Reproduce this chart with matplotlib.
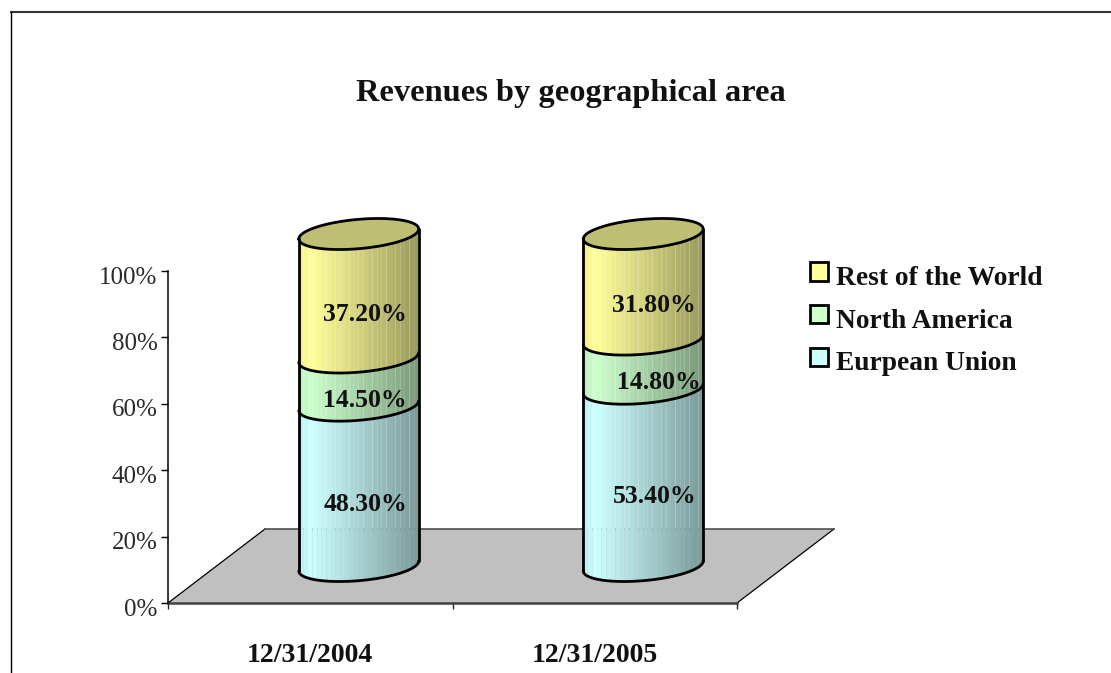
import numpy as np
import matplotlib
matplotlib.use('Agg')
import matplotlib.pyplot as plt
from matplotlib.patches import Patch, Polygon
from matplotlib.transforms import ScaledTranslation

categories = ['12/31/2004', '12/31/2005']
series = ['Eurpean Union', 'North America', 'Rest of the World']
eu = [48.3, 53.4]
na = [14.5, 14.8]
row = [37.2, 31.8]
values = [eu, na, row]
yticks = [0, 20, 40, 60, 80, 100]
colors = ['#CCFFFF', '#CCFFCC', '#FFFF99']
title = 'Revenues by geographical area'

W, H = 1111, 673
plt.rcParams['font.family'] = ['Liberation Serif', 'DejaVu Serif']

fig = plt.figure(figsize=(W / 100, H / 100), dpi=100)
# page frame: only the top and left lines are on the page
fig.add_artist(plt.Line2D([11 / W, W / W], [1 - 12 / H, 1 - 12 / H], color='#333333', lw=1.5))
fig.add_artist(plt.Line2D([11 / W, 11 / W], [0, 1 - 12 / H], color='black', lw=1.0))

ax = fig.add_axes([168 / W, 1 - 603 / H, 569 / W, 332 / H])
ax.set_xlim(0, 2)
ax.set_ylim(0, 100)
ax.patch.set_visible(False)

# 3d look: depth of the floor, and the cylinder shape, in axis units
dx, dy = 97 / 284.5, 74 / 3.32
half_w = 60 / 284.5
tilt = 5 / 3.32
flat = 14.7 / 3.32
n_bands = 26


def shade(u):
    # u runs -1..1 across the cylinder
    pos = (u + 1) / 2
    if pos < 0.1:
        return 0.93 + 0.07 * pos / 0.1
    return 1.0 - 0.40 * (pos - 0.1) / 0.9


def front(u):
    return tilt * u - flat * np.sqrt(1 - u ** 2)


def back(u):
    return tilt * u + flat * np.sqrt(1 - u ** 2)


floor = Polygon([(0, 0), (2, 0), (2 + dx, dy), (dx, dy)], closed=True, facecolor='#C0C0C0',
                edgecolor='none', zorder=1, clip_on=False)
ax.add_patch(floor)
ax.plot([0, dx], [0, dy], color='black', lw=0.9, zorder=2, clip_on=False)
ax.plot([2, 2 + dx], [0, dy], color='black', lw=0.9, zorder=2, clip_on=False)
ax.plot([dx, 2 + dx], [dy, dy], color='#505050', lw=1.2, zorder=2, clip_on=False)
ax.plot([0, 2], [0, 0], color='#404040', lw=1.8, zorder=2, clip_on=False)

edges = np.linspace(-1, 1, n_bands + 1)
line_kw = dict(color='black', lw=2.0, zorder=6, clip_on=False, solid_capstyle='round')
# sideways nudge of the labels, in points, per category and series
nudge = [[4.5, 4.5, 4.5], [8, 11.5, 8]]

for i in range(len(categories)):
    cx = i + 0.5 + dx / 2
    base = dy / 2
    bottom = base
    for s in range(len(series)):
        v = values[s][i]
        top = bottom + v
        rgb = np.array(matplotlib.colors.to_rgb(colors[s]))
        for a, b in zip(edges[:-1], edges[1:]):
            u = np.linspace(a, b, 6)
            c = np.clip(rgb * shade((a + b) / 2), 0, 1)
            xp = cx + half_w * np.r_[u, u[::-1]]
            yp = np.r_[bottom + front(u), top + front(u[::-1])]
            ax.fill(xp, yp, color=c, lw=0, zorder=4, clip_on=False)
        uu = np.linspace(-1, 1, 200)
        ax.plot(cx + half_w * uu, bottom + front(uu), **line_kw)
        ax.annotate(f'{v:.2f}%', (cx, (bottom + top) / 2), xytext=(nudge[i][s], -13.5), textcoords='offset points',
                    ha='center', va='center', fontsize=18.5, fontweight='bold', color='#111111',
                    zorder=8, annotation_clip=False)
        bottom = top
    # lid, darker than the yellow side
    uu = np.linspace(-1, 1, 200)
    lid_x = cx + half_w * np.r_[uu, uu[::-1]]
    lid_y = bottom + np.r_[front(uu), back(uu[::-1])]
    ax.fill(lid_x, lid_y, facecolor=np.array(matplotlib.colors.to_rgb(colors[-1])) * 0.75,
            edgecolor='none', zorder=5, clip_on=False)
    ax.plot(lid_x, lid_y, **line_kw)
    ax.plot([cx - half_w] * 2, [base + front(np.array(-1.0)), bottom + front(np.array(-1.0))], **line_kw)
    ax.plot([cx + half_w] * 2, [base + front(np.array(1.0)), bottom + front(np.array(1.0))], **line_kw)

for name in ['top', 'right', 'bottom']:
    ax.spines[name].set_visible(False)
ax.spines['left'].set_linewidth(1.1)
ax.spines['left'].set_zorder(3)

ax.set_yticks(yticks)
ax.set_yticklabels([f'{t}%' for t in yticks], fontsize=18, color='#2a2a2a')
ax.tick_params(axis='y', length=5, width=1.0, pad=2.5)
down = ScaledTranslation(0, -4 / 100, fig.dpi_scale_trans)
for lab in ax.get_yticklabels():
    lab.set_transform(lab.get_transform() + down)
ax.set_xticks([0, 1, 2])
ax.set_xticklabels([])
ax.tick_params(axis='x', length=4.5, width=1.0, color='#222222')
for i, cat in enumerate(categories):
    ax.annotate(cat, (i + 0.5, 0), xytext=(0, -52), textcoords='offset pixels', ha='center', va='center',
                fontsize=20, fontweight='bold', color='#111111', annotation_clip=False)

fig.text(571 / W, 1 - 94 / H, title, ha='center', va='center', fontsize=23.3, fontweight='bold', color='#111111')

handles = [Patch(facecolor=colors[k], edgecolor='black', lw=2.0) for k in [2, 1, 0]]
labels = [series[k] for k in [2, 1, 0]]
leg = fig.legend(handles, labels, loc='upper left', bbox_to_anchor=(802 / W, 1 - 254 / H), frameon=False,
                 prop={'size': 19.8, 'weight': 'bold'}, labelcolor='#111111', handlelength=0.66, handleheight=0.66,
                 handletextpad=0.26, labelspacing=0.64, borderpad=0.3, borderaxespad=0)
for t in leg.get_texts():
    t.set_y(-4)

fig.savefig('out.png', dpi=100)
